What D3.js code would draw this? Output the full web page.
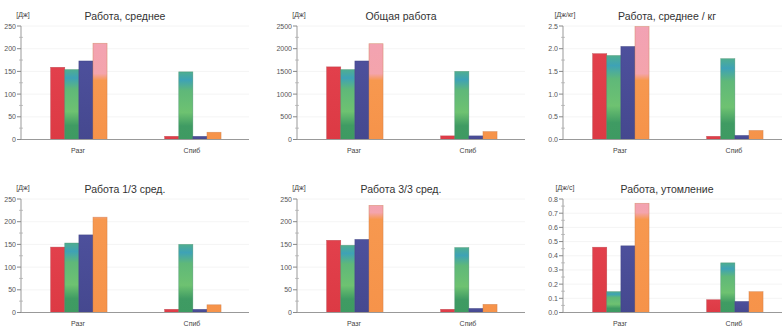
<!DOCTYPE html>
<html>
<head>
<meta charset="utf-8">
<script src="https://cdn.jsdelivr.net/npm/d3@7"></script>
<style>
  body { margin: 0; background: #fff; }
  svg { display: block; font-family: "Liberation Sans", Arial, sans-serif; }
  .tick-label { font-size: 7px; fill: #555; }
  .cat-label { font-size: 7px; fill: #444; }
  .unit { font-size: 7px; fill: #444; }
  .title { font-size: 10.5px; fill: #333; }
</style>
</head>
<body>
<svg id="chart" width="782" height="332"></svg>
<script>
// data
const categories = ['Разг', 'Спиб'];
const series = ['s1', 's2', 's3', 's4'];

const titles = ['Работа, среднее', 'Общая работа', 'Работа, среднее / кг',
  'Работа 1/3 сред.', 'Работа 3/3 сред.', 'Работа, утомление'];
const units = ['[Дж]', '[Дж]', '[Дж/кг]', '[Дж]', '[Дж]', '[Дж/с]'];

// values per panel: [Разг..., Спиб...] for the four series
const workAvg = [[159, 154, 173, 212], [7, 149, 7, 16]];
const workTotal = [[1600, 1540, 1730, 2110], [80, 1500, 80, 175]];
const workPerKg = [[1.89, 1.85, 2.05, 2.49], [0.07, 1.78, 0.09, 0.20]];
const workFirst = [[144, 153, 171, 210], [7, 150, 7, 17]];
const workLast = [[159, 148, 161, 236], [7, 143, 9, 18]];
const workFatigue = [[0.46, 0.147, 0.47, 0.77], [0.09, 0.35, 0.078, 0.147]];

const yMax = [250, 2500, 2.5, 250, 250, 0.8];
const yStep = [50, 500, 0.5, 50, 50, 0.1];
const yFormat = ['d', 'd', '.1f', 'd', 'd', '.1f'];

const panelValues = [workAvg, workTotal, workPerKg, workFirst, workLast, workFatigue];

const svg = d3.select('#chart');

const colX = [21, 297, 563];
const rowBase = [139.5, 312.5];
const rowTop = [26, 199];
const axisLen = 228;

// bar fills, the scan shows streaky colours so a few gradients
const defs = svg.append('defs');
const gradients = [
  [['0', '#e2404c'], ['1', '#dc3a44']],
  [['0', '#4fae90'], ['0.12', '#3ea2b6'], ['0.28', '#5fb879'], ['0.6', '#6ec271'], ['0.8', '#3f9b63'], ['1', '#3e9a62']],
  [['0', '#4d509c'], ['1', '#45488f']]
];
gradients.forEach((stops, i) => {
  const g = defs.append('linearGradient')
    .attr('id', 'grad' + i)
    .attr('x1', 0).attr('y1', 0).attr('x2', 0).attr('y2', 1);
  stops.forEach(s => g.append('stop').attr('offset', s[0]).attr('stop-color', s[1]));
});
// orange bar goes pink near the top, per row
const pinkFrac = [0.55, 0.85];
[0, 1].forEach(r => {
  const cut = rowBase[r] - pinkFrac[r] * (rowBase[r] - rowTop[r]);
  const g = defs.append('linearGradient')
    .attr('id', 'grad3r' + r)
    .attr('gradientUnits', 'userSpaceOnUse')
    .attr('x1', 0).attr('x2', 0).attr('y1', rowTop[r]).attr('y2', rowBase[r]);
  const t = (cut - rowTop[r]) / (rowBase[r] - rowTop[r]);
  g.append('stop').attr('offset', 0).attr('stop-color', '#f2a2b4');
  g.append('stop').attr('offset', t - 0.03).attr('stop-color', '#f4a4ac');
  g.append('stop').attr('offset', t + 0.03).attr('stop-color', '#f7984f');
  g.append('stop').attr('offset', 1).attr('stop-color', '#f6934a');
});
const strokes = ['#b03038', '#3c8a66', '#363a78', '#c87a48'];

function drawPanel(p) {
  const col = p % 3;
  const row = Math.floor(p / 3);
  const x0 = colX[col];
  const data = panelValues[p];

  const x = d3.scaleBand().domain(categories).range([x0, x0 + axisLen]);
  const bw = x.bandwidth();
  const xs = d3.scaleBand().domain(series).range([bw * 0.26, bw * 0.755]);
  const y = d3.scaleLinear().domain([0, yMax[p]]).range([rowBase[row], rowTop[row]]);

  const g = svg.append('g');

  const majors = d3.range(0, yMax[p] + yStep[p] / 2, yStep[p]);
  const minors = d3.range(yStep[p] / 2, yMax[p], yStep[p]);

  // faint grid
  g.selectAll('.grid').data(majors.slice(1)).enter().append('line')
    .attr('x1', x0).attr('x2', x0 + axisLen)
    .attr('y1', d => y(d)).attr('y2', d => y(d))
    .attr('stroke', '#f1f1f1').attr('stroke-width', 0.8);

  // bars
  categories.forEach((c, ci) => {
    g.selectAll('.bar' + ci).data(data[ci]).enter().append('rect')
      .attr('x', (d, i) => x(c) + xs(series[i]))
      .attr('width', xs.bandwidth())
      .attr('y', d => y(d))
      .attr('height', d => y(0) - y(d))
      .attr('fill', (d, i) => i === 3 ? 'url(#grad3r' + row + ')' : 'url(#grad' + i + ')')
      .attr('stroke', (d, i) => strokes[i])
      .attr('stroke-width', 0.6)
      .attr('stroke-opacity', 0.6);
  });

  // x axis line
  g.append('line')
    .attr('x1', x0).attr('x2', x0 + axisLen)
    .attr('y1', y(0)).attr('y2', y(0))
    .attr('stroke', '#999').attr('stroke-width', 1);

  g.selectAll('.cat').data(categories).enter().append('text')
    .attr('class', 'cat-label')
    .attr('x', d => x(d) + bw / 2)
    .attr('y', y(0) + 13)
    .attr('text-anchor', 'middle')
    .text(d => d);

  // y axis
  g.append('line')
    .attr('x1', x0).attr('x2', x0)
    .attr('y1', y(0)).attr('y2', y(yMax[p]))
    .attr('stroke', '#999').attr('stroke-width', 1);

  g.selectAll('.major').data(majors).enter().append('line')
    .attr('x1', x0 - 4).attr('x2', x0)
    .attr('y1', d => y(d)).attr('y2', d => y(d))
    .attr('stroke', '#888');

  g.selectAll('.minor').data(minors).enter().append('line')
    .attr('x1', x0 - 2).attr('x2', x0 + 2)
    .attr('y1', d => y(d)).attr('y2', d => y(d))
    .attr('stroke', '#aaa').attr('stroke-width', 0.7);

  const fmt = d3.format(yFormat[p]);
  g.selectAll('.ylab').data(majors).enter().append('text')
    .attr('class', 'tick-label')
    .attr('x', x0 - 5)
    .attr('y', d => y(d) + 2.5)
    .attr('text-anchor', 'end')
    .text(d => fmt(d));

  g.append('text')
    .attr('class', 'unit')
    .attr('x', x0 + 2)
    .attr('y', rowTop[row] - 9)
    .attr('text-anchor', 'middle')
    .text(units[p]);

  g.append('text')
    .attr('class', 'title')
    .attr('x', x0 + 104)
    .attr('y', rowTop[row] - 6)
    .attr('text-anchor', 'middle')
    .text(titles[p]);
}

d3.range(6).forEach(drawPanel);
</script>
</body>
</html>
